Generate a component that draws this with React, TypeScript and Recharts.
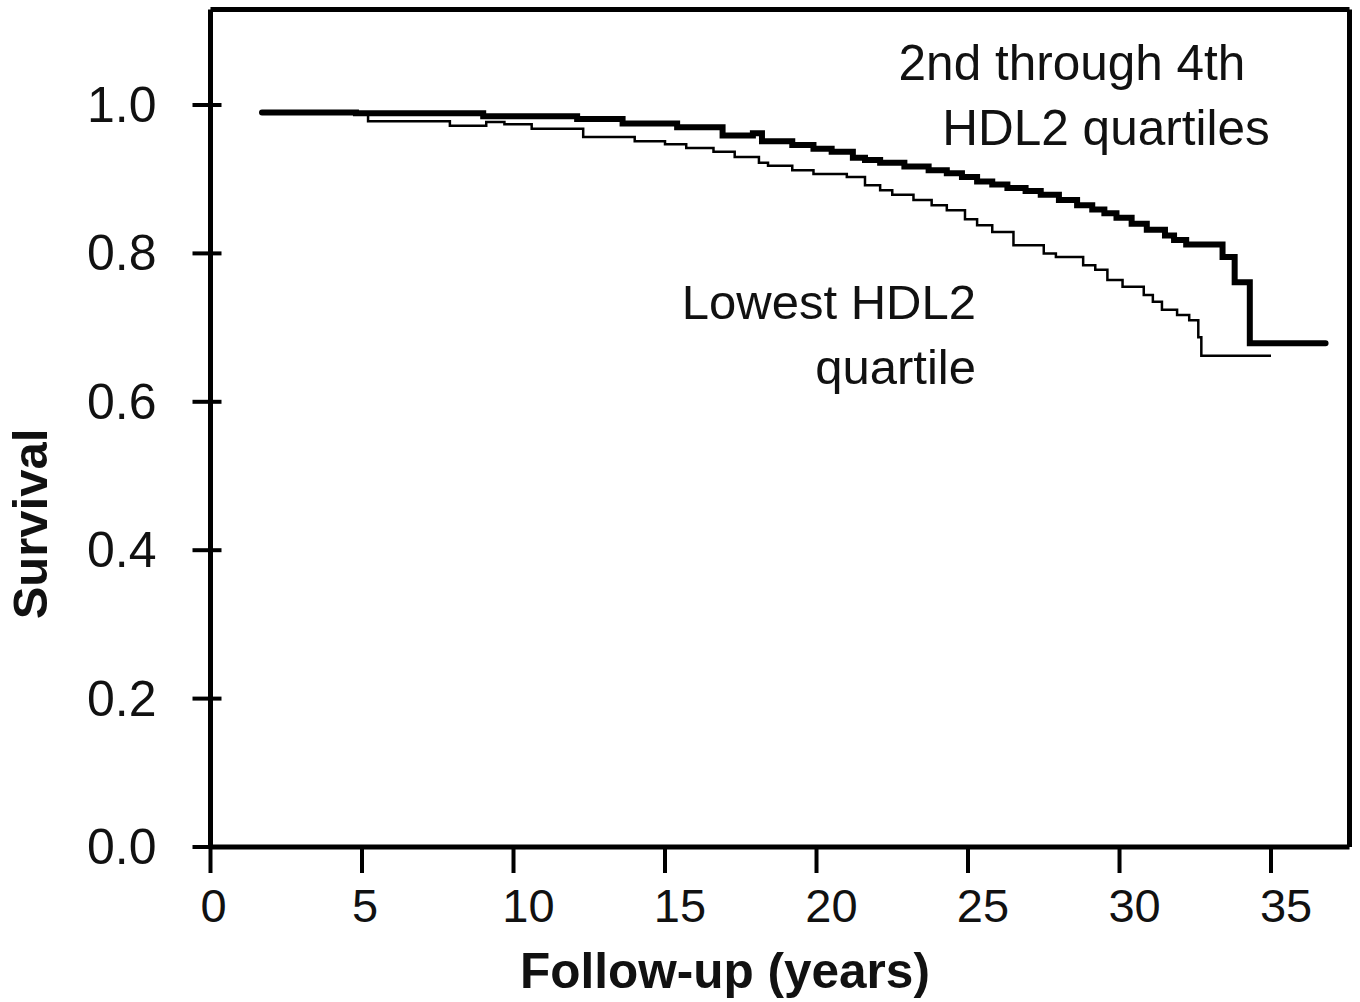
import { LineChart, Line, XAxis, YAxis, ReferenceLine, Customized } from "recharts"

// Kaplan-Meier style survival steps
const upperTimes = [1.7, 4.8, 9.0, 12.1, 13.6, 15.4, 16.9, 17.9, 18.2, 19.2, 19.9, 20.5, 21.2, 21.6, 22.1, 22.9, 23.7, 24.3, 24.8, 25.3, 25.8, 26.3, 26.9, 27.4, 28.0, 28.6, 29.1, 29.5, 29.9, 30.4, 30.9, 31.5, 31.8, 32.2, 33.4, 33.8, 34.3, 36.8]
const upperSurvival = [0.99, 0.989, 0.985, 0.981, 0.975, 0.97, 0.959, 0.962, 0.951, 0.946, 0.941, 0.937, 0.929, 0.926, 0.922, 0.917, 0.912, 0.908, 0.903, 0.897, 0.893, 0.888, 0.884, 0.879, 0.872, 0.865, 0.859, 0.854, 0.848, 0.84, 0.832, 0.824, 0.818, 0.812, 0.795, 0.761, 0.679, 0.679]

const lowestTimes = [1.7, 5.2, 7.9, 9.1, 9.7, 10.6, 12.3, 14.0, 15.0, 15.7, 16.6, 17.3, 18.1, 18.4, 19.2, 19.9, 21.0, 21.6, 22.1, 22.5, 23.2, 23.8, 24.3, 24.9, 25.3, 25.8, 26.5, 27.5, 27.9, 28.8, 29.2, 29.6, 30.1, 30.8, 31.1, 31.4, 31.9, 32.3, 32.6, 32.7, 35.0]
const lowestSurvival = [0.99, 0.978, 0.972, 0.977, 0.974, 0.968, 0.957, 0.951, 0.947, 0.942, 0.937, 0.93, 0.922, 0.918, 0.912, 0.907, 0.903, 0.892, 0.885, 0.879, 0.872, 0.865, 0.858, 0.846, 0.838, 0.829, 0.811, 0.8, 0.795, 0.784, 0.778, 0.764, 0.755, 0.744, 0.735, 0.724, 0.717, 0.71, 0.687, 0.662, 0.662]

const xTicks = [0, 5, 10, 15, 20, 25, 30, 35]
const yTicks = [0, 0.2, 0.4, 0.6, 0.8, 1.0]
const X_MAX = 37.59
const Y_MAX = 1.1287

const upper = upperTimes.map((t, i) => ({ t, s: upperSurvival[i] }))
const lowest = lowestTimes.map((t, i) => ({ t, s: lowestSurvival[i] }))

const FONT = "'Liberation Sans', Arial, sans-serif"

const YTick = (props: any) => {
  const { x, y, payload } = props
  return (
    <g>
      <line x1={x - 18} x2={x + 11} y1={y} y2={y} stroke="#000" strokeWidth={4} />
      <text x={x - 54} y={y + 17} textAnchor="end" fontSize={50} fontFamily={FONT} fill="#111">
        {Number(payload.value).toFixed(1)}
      </text>
    </g>
  )
}

const XTick = (props: any) => {
  const { x, y, payload } = props
  // two-digit labels sit a little right of their ticks in the original
  const shift = payload.value >= 10 ? 15 : 3
  return (
    <g>
      <line x1={x} x2={x} y1={y} y2={y + 26} stroke="#000" strokeWidth={4} />
      <text x={x + shift} y={y + 75} textAnchor="middle" fontSize={47} fontFamily={FONT} fill="#111">
        {payload.value}
      </text>
    </g>
  )
}

const Annotations = () => (
  <g fontFamily={FONT} fill="#111">
    <text x={1072} y={80} textAnchor="middle" fontSize={49.5}>2nd through 4th</text>
    <text x={1106} y={145} textAnchor="middle" fontSize={49.5}>HDL2 quartiles</text>
    <text x={976} y={319} textAnchor="end" fontSize={49}>Lowest HDL2</text>
    <text x={976} y={384} textAnchor="end" fontSize={49}>quartile</text>
    <text x={725} y={988} textAnchor="middle" fontSize={49.5} fontWeight="bold">Follow-up (years)</text>
    <text x={47} y={524} textAnchor="middle" fontSize={49} fontWeight="bold" transform="rotate(-90 47 524)">Survival</text>
  </g>
)

export default function App() {
  return (
    <div style={{ position: "absolute", left: 0, top: 0, background: "#fff" }}>
      <LineChart width={1360} height={1002} margin={{ top: 9.5, right: 10.5, left: 0, bottom: 0 }}>
        <XAxis
          type="number"
          dataKey="t"
          domain={[0, X_MAX]}
          ticks={xTicks}
          allowDataOverflow
          height={155}
          tickSize={0}
          tickMargin={0}
          tickLine={false}
          tick={<XTick />}
          axisLine={{ stroke: "#000", strokeWidth: 5 }}
        />
        <YAxis
          type="number"
          domain={[0, Y_MAX]}
          ticks={yTicks}
          allowDataOverflow
          width={210.5}
          tickSize={0}
          tickMargin={0}
          tickLine={false}
          tick={<YTick />}
          axisLine={{ stroke: "#000", strokeWidth: 5 }}
        />
        <ReferenceLine y={Y_MAX} stroke="#000" strokeWidth={5} />
        <ReferenceLine x={X_MAX} stroke="#000" strokeWidth={5} />
        <Line
          data={lowest}
          dataKey="s"
          type="stepAfter"
          stroke="#000"
          strokeWidth={2.5}
          dot={false}
          isAnimationActive={false}
        />
        <Line
          data={upper}
          dataKey="s"
          type="stepAfter"
          stroke="#000"
          strokeWidth={6}
          strokeLinecap="round"
          dot={false}
          isAnimationActive={false}
        />
        <Customized component={Annotations} />
      </LineChart>
    </div>
  )
}
